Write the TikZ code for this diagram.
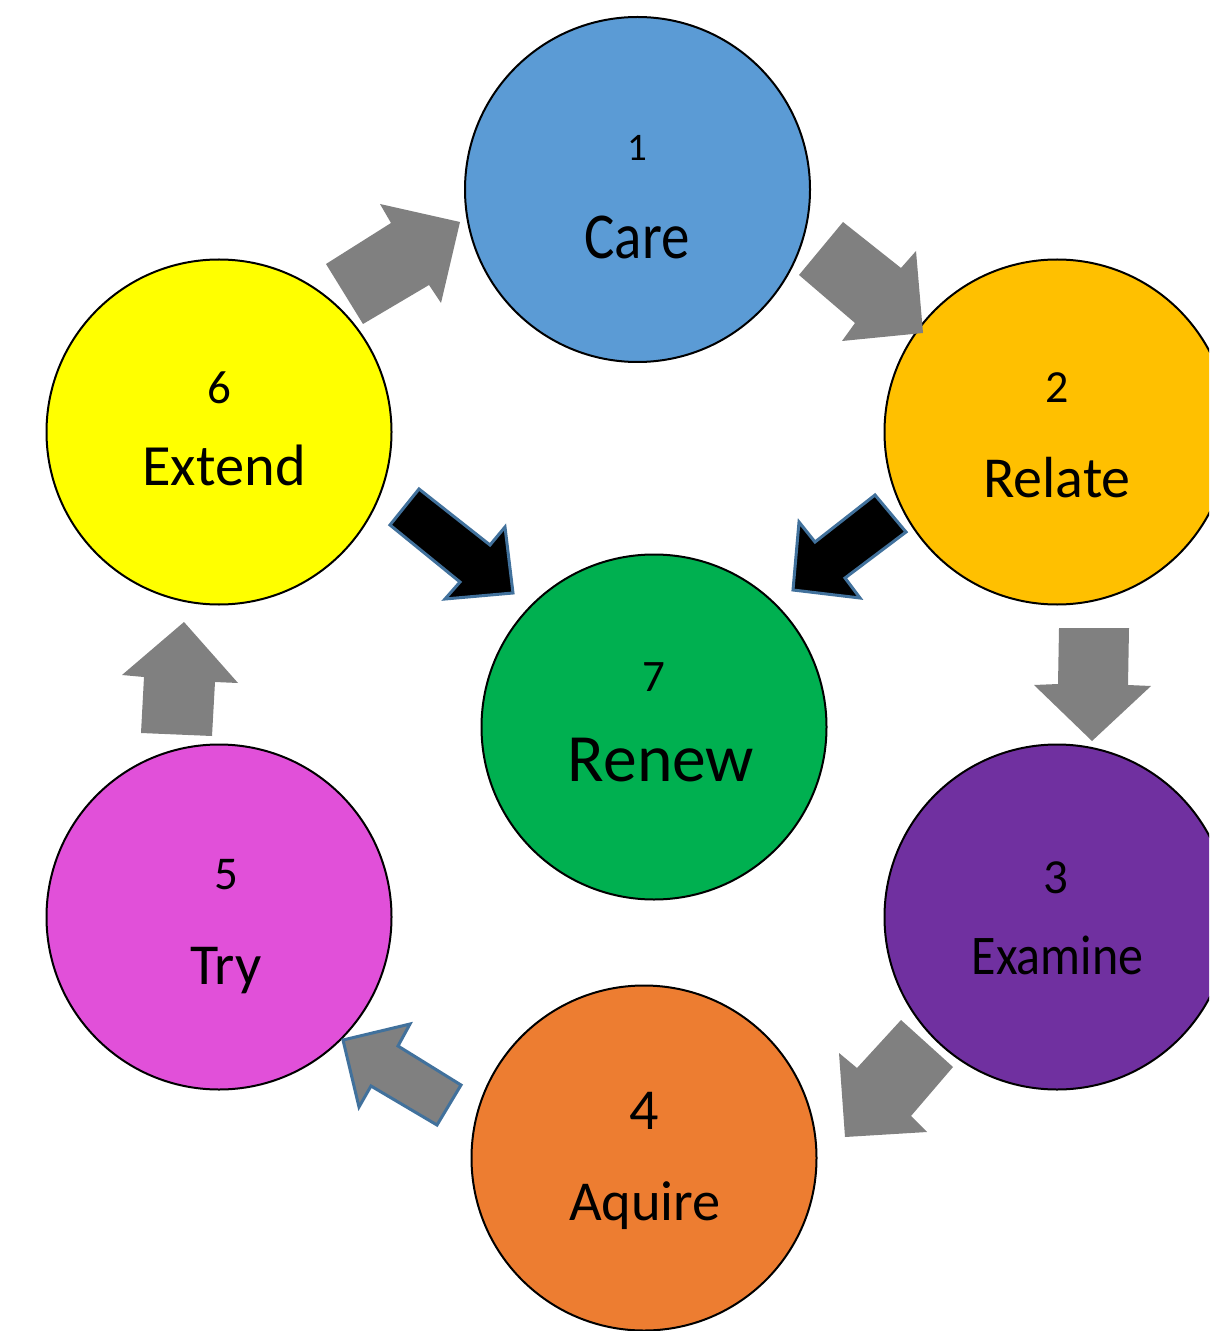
\documentclass[tikz,border=0pt]{standalone}
\usepackage{fontspec}
\setmainfont{Carlito}
\definecolor{careC}{HTML}{5B9BD5}
\definecolor{relateC}{HTML}{FFC000}
\definecolor{examineC}{HTML}{7030A0}
\definecolor{aquireC}{HTML}{ED7D31}
\definecolor{tryC}{HTML}{E150D9}
\definecolor{extendC}{HTML}{FFFF00}
\definecolor{renewC}{HTML}{00B050}
\definecolor{arrowGray}{HTML}{808080}
\definecolor{outlineBlue}{HTML}{41719C}
\newcommand{\fs}[1]{\fontsize{#1}{#1}\selectfont}
\begin{document}
\begin{tikzpicture}[x=0.5pt,y=-0.5pt,
  stage/.style={circle,draw=black,line width=1pt,minimum size=172.5pt,inner sep=0pt},
  lbl/.style={anchor=base,inner sep=0pt,text=black},
  grayarrow/.style={fill=arrowGray,draw=none},
  grayarrowo/.style={fill=arrowGray,draw=outlineBlue,line width=1.5pt,line join=miter},
  blackarrow/.style={fill=black,draw=outlineBlue,line width=1.5pt,line join=miter}]
\useasboundingbox (0,0) rectangle (1209,1331);
\clip (0,0) rectangle (1209,1331);
\fill[white] (0,0) rectangle (1209,1331);
% circles
\node[stage,fill=careC] (care) at (637.5,189.5) {};
\node[stage,fill=relateC] (relate) at (1057,432) {};
\node[stage,fill=examineC] (examine) at (1057,917) {};
\node[stage,fill=aquireC] (aquire) at (644,1158) {};
\node[stage,fill=tryC] (try) at (219,917) {};
\node[stage,fill=extendC] (extend) at (219,432) {};
\node[stage,fill=renewC] (renew) at (654,727) {};
% labels
\node[lbl,font=\fs{19.5}] (n1) at (637,161) {1};
\node[lbl,font=\fs{28.5}] (t1) at (637,259) {\scalebox{1}[1.15]{Care}};
\node[lbl,font=\fs{23}] (n2) at (1057,403) {2};
\node[lbl,font=\fs{29}] (t2) at (1057,497) {Relate};
\node[lbl,font=\fs{24.5}] (n3) at (1056,893) {3};
\node[lbl,font=\fs{25}] (t3) at (1057.5,974) {\scalebox{1}[1.12]{Examine}};
\node[lbl,font=\fs{29}] (n4) at (644,1129) {4};
\node[lbl,font=\fs{28.2}] (t4) at (645,1220) {Aquire};
\node[lbl,font=\fs{23.5}] (n5) at (226,889) {5};
\node[lbl,font=\fs{29}] (t5) at (226,984) {Try};
\node[lbl,font=\fs{23.5}] (n6) at (219,404) {6};
\node[lbl,font=\fs{29.2}] (t6) at (224,485) {Extend};
\node[lbl,font=\fs{22.5}] (n7) at (654,691) {7};
\node[lbl,font=\fs{33.8}] (t7) at (661,781) {Renew};
% block arrows
\fill[grayarrow] (326,264) -- (391,223) -- (380,204) -- (460,222) -- (441,303) -- (429,285) -- (363,324) -- cycle;
\fill[grayarrow] (843,222) -- (901,268) -- (916,251) -- (923,333) -- (842,341) -- (855,323) -- (799,275) -- cycle;
\filldraw[blackarrow] (419,489) -- (490,545) -- (505,527) -- (513,593) -- (445,599) -- (460,582) -- (390,525) -- cycle;
\filldraw[blackarrow] (875,495) -- (906,532) -- (845,578) -- (860,598) -- (793,590) -- (799,522) -- (815,542) -- cycle;
\fill[grayarrow] (1059,628) -- (1129,628) -- (1128,685) -- (1151,686) -- (1092,741) -- (1034,685) -- (1058,684) -- cycle;
\fill[grayarrow] (901,1020) -- (953,1067) -- (911,1116) -- (927,1132) -- (845,1137) -- (839,1053) -- (857,1068) -- cycle;
\filldraw[grayarrowo] (461,1085) -- (437,1125) -- (371,1086) -- (359,1107) -- (343,1040) -- (410,1024) -- (398,1046) -- cycle;
\fill[grayarrow] (141,733) -- (212,736) -- (215,682) -- (238,683) -- (184,622) -- (122,675) -- (144,677) -- cycle;
\end{tikzpicture}
\end{document}
